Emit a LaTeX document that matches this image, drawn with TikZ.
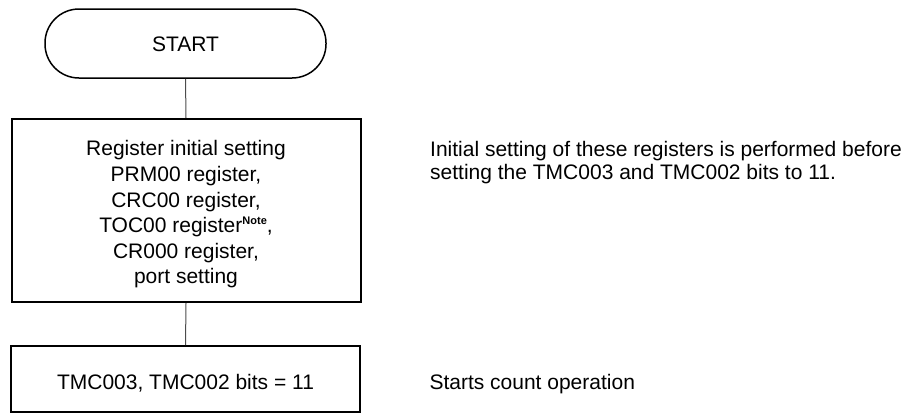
\documentclass[tikz,border=0pt]{standalone}
\usepackage{fontspec}
\setmainfont{Liberation Sans}
\begin{document}
\begin{tikzpicture}[x=1pt,y=-1pt,
  txt/.style={font=\fontsize{21}{25.6}\selectfont, inner sep=0pt},
  term/.style={draw, line width=1.5pt, rounded corners=34pt, minimum width=281pt, minimum height=69pt, txt},
  procbox/.style={draw, line width=2pt, minimum width=349pt, txt, align=center},
  conn/.style={draw=black!70, line width=1pt},
  note/.style={txt, anchor=base west, align=left, font=\fontsize{21}{22.6}\selectfont}
]
\useasboundingbox (0,0) rectangle (912,413);
\node[term, text height=15pt, text depth=0pt] (start) at (185.5,43.5) {START};
\node[procbox, minimum height=183pt] (init) at (186,210.5)
  {\rule{0pt}{23.3pt}Register initial setting\\
   PRM00 register,\\
   CRC00 register,\\
   TOC00 register\raisebox{8.4pt}{\fontsize{11}{11}\selectfont\bfseries Note},\\
   CR000 register,\\
   port setting};
\node[procbox, minimum height=66pt, text height=22pt, text depth=1.4pt] (tmc) at (185.5,379) {TMC003, TMC002 bits = 11};
\draw[conn] (start.south) -- (init.north);
\draw[conn] (init.south) -- (tmc.north);
\node[note] (n1) at (430,179.3) {Initial setting of these registers is performed before\\setting the TMC003 and TMC002 bits to 11.};
\node[note] (n2) at (429.3,389.3) {Starts count operation};
\end{tikzpicture}
\end{document}
